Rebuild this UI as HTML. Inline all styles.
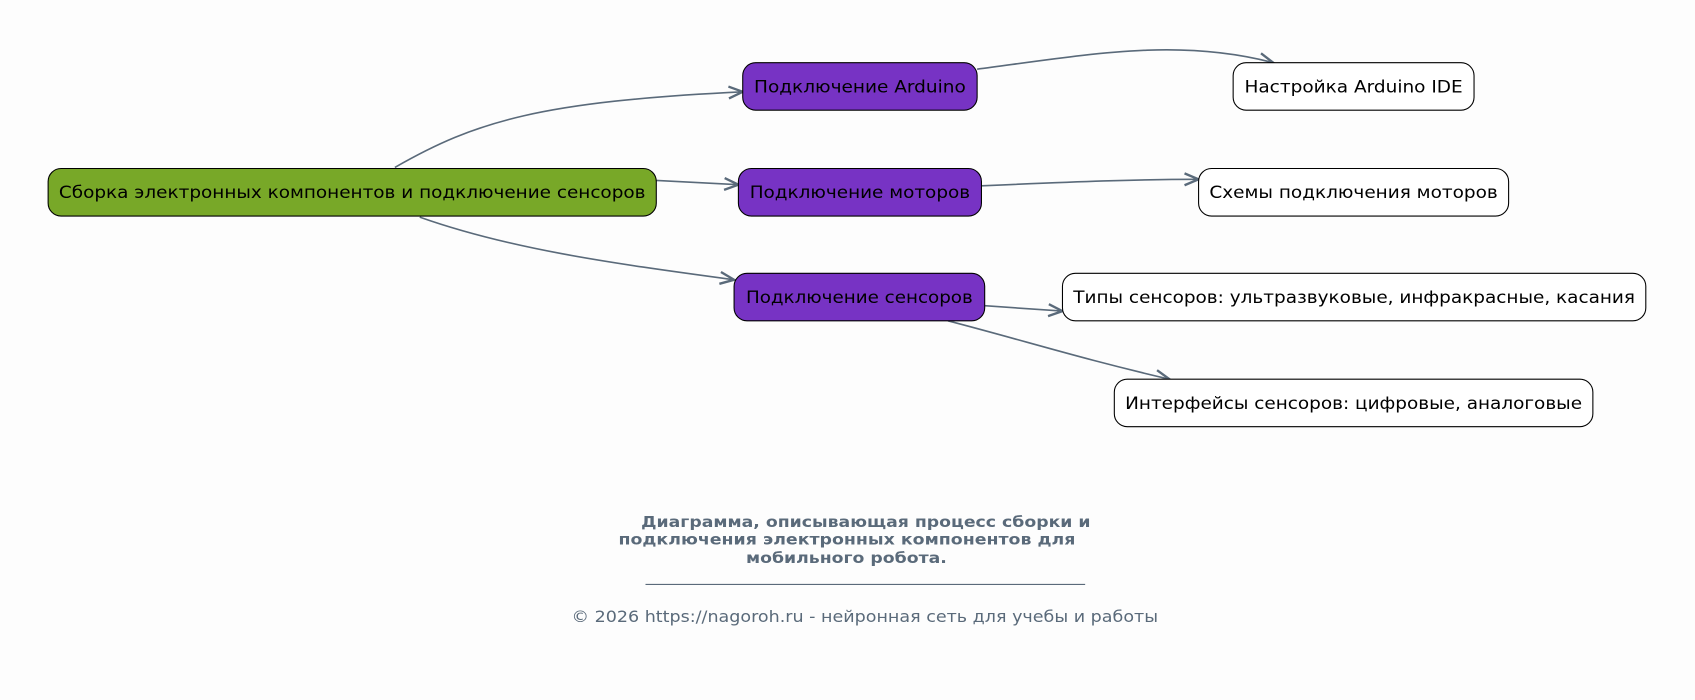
<!DOCTYPE html>
<html><head><meta charset="utf-8"><style>html,body{margin:0;padding:0;background:#fdfdfd}svg{display:block}</style></head><body>
<svg width="1695" height="700" viewBox="0 0 1568 648" xmlns="http://www.w3.org/2000/svg" font-family="DejaVu Sans, Liberation Sans, sans-serif">
<defs><marker id="a" markerWidth="16" markerHeight="14" refX="14" refY="7" orient="auto" markerUnits="userSpaceOnUse"><path d="M1,1.5 L14,7 L1,12.5" fill="none" stroke="#5a6a7a" stroke-width="2.2"/></marker></defs>
<rect width="1568" height="648" fill="#fdfdfd"/>
<g fill="none" stroke="#5a6a7a" stroke-width="1.5" marker-end="url(#a)">
<path d="M365,155 C440,112 500,94 687,85"/>
<path d="M607,167 L683,171"/>
<path d="M388,201 C470,230 560,243 679,259"/>
<path d="M904,64 C1010,50 1090,35 1178,58"/>
<path d="M908,172 C1000,168 1050,166 1109,166"/>
<path d="M911,283 L983,288"/>
<path d="M877,297 C950,316 1000,332 1082,351"/>
</g>
<g stroke="#000" stroke-width="1">
<rect x="44" y="156" width="563" height="44" rx="12" fill="#78a828"/>
<rect x="687" y="58" width="217" height="44" rx="12" fill="#7733c4"/>
<rect x="683" y="156" width="225" height="44" rx="12" fill="#7733c4"/>
<rect x="679" y="253" width="232" height="44" rx="12" fill="#7733c4"/>
<rect x="1141" y="58" width="223" height="44" rx="12" fill="#fff"/>
<rect x="1109" y="156" width="287" height="44" rx="12" fill="#fff"/>
<rect x="983" y="253" width="540" height="44" rx="12" fill="#fff"/>
<rect x="1031" y="351" width="443" height="44" rx="12" fill="#fff"/>
</g>
<g font-size="16" fill="#000" text-anchor="middle">
<text x="325.5" y="183.5" textLength="543" lengthAdjust="spacingAndGlyphs">Сборка электронных компонентов и подключение сенсоров</text>
<text x="795.5" y="85.5" textLength="196" lengthAdjust="spacingAndGlyphs">Подключение Arduino</text>
<text x="795.5" y="183.5" textLength="204" lengthAdjust="spacingAndGlyphs">Подключение моторов</text>
<text x="795" y="280.5" textLength="210" lengthAdjust="spacingAndGlyphs">Подключение сенсоров</text>
<text x="1252.5" y="85.5" textLength="202" lengthAdjust="spacingAndGlyphs">Настройка Arduino IDE</text>
<text x="1252.5" y="183.5" textLength="267" lengthAdjust="spacingAndGlyphs">Схемы подключения моторов</text>
<text x="1253" y="280.5" textLength="520" lengthAdjust="spacingAndGlyphs">Типы сенсоров: ультразвуковые, инфракрасные, касания</text>
<text x="1252.5" y="378.5" textLength="423" lengthAdjust="spacingAndGlyphs">Интерфейсы сенсоров: цифровые, аналоговые</text>
</g>
<g fill="#5a6a7a" text-anchor="middle">
<g font-size="14" font-weight="bold">
<text x="801" y="488" textLength="416" lengthAdjust="spacingAndGlyphs">Диаграмма, описывающая процесс сборки и</text>
<text x="783.5" y="504" textLength="423" lengthAdjust="spacingAndGlyphs">подключения электронных компонентов для</text>
<text x="783" y="521" textLength="186" lengthAdjust="spacingAndGlyphs">мобильного робота.</text>
</g>
<line x1="597" y1="541" x2="1004" y2="541" stroke="#5a6a7a" stroke-width="1"/>
<text x="800" y="576" font-size="15" textLength="543" lengthAdjust="spacingAndGlyphs">© 2026 https://nagoroh.ru - нейронная сеть для учебы и работы</text>
</g>
</svg>
</body></html>
